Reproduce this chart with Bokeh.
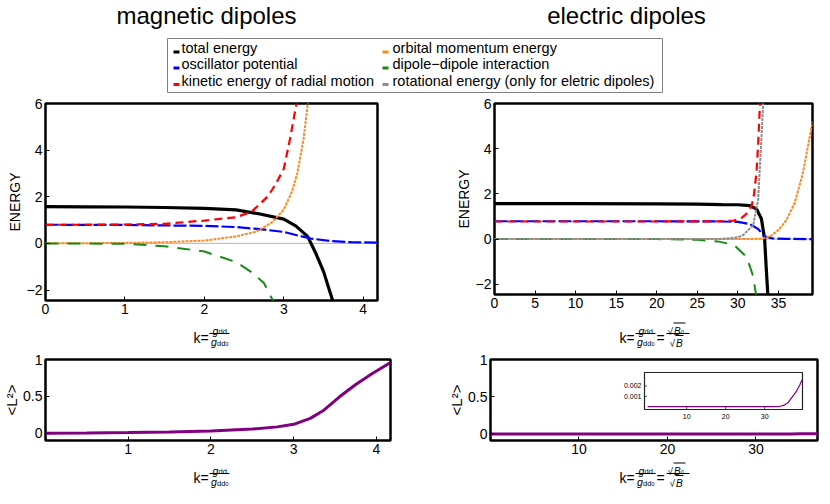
import math
from bokeh.plotting import figure
from bokeh.models import Range1d, Span
from bokeh.layouts import column, row
from bokeh.embed import file_html
from bokeh.resources import INLINE
from bokeh.core.properties import value

FONT = "Liberation Sans"

# ---------------- data ----------------
titles = ["magnetic dipoles", "electric dipoles"]
legend_labels = ["total energy", "oscillator potential", "kinetic energy of radial motion",
                 "orbital momentum energy", "dipole\u2212dipole interaction",
                 "rotational energy (only for eletric dipoles)"]
legend_colors = ["#000000", "#0000ff", "#ff0000", "#ff8a1f", "#1a8a1a", "#8c8c8c"]

energy_ticks = [-2, 0, 2, 4, 6]
mag_x_ticks = [0, 1, 2, 3, 4]
ele_x_ticks = [0, 5, 10, 15, 20, 25, 30, 35]
l2_ticks = [0, 0.5, 1]
mag_l2_x_ticks = [1, 2, 3, 4]
ele_l2_x_ticks = [10, 20, 30]
inset_x_ticks = [10, 20, 30]
inset_y_ticks = [0.001, 0.002]
inset_y_labels = ["0.001", "0.002"]

# magnetic dipoles (k = g_dd / g_dd0)
mag_total_k = [0, 0.5, 1.0, 1.5, 2.0, 2.4, 2.7, 3.0, 3.15, 3.3, 3.4, 3.5, 3.62]
mag_total = [1.58, 1.57, 1.56, 1.54, 1.50, 1.44, 1.26, 1.04, 0.75, 0.30, -0.40, -1.20, -2.50]
mag_osc_k = [0, 1.0, 1.5, 2.0, 2.4, 2.7, 3.0, 3.2, 3.35, 3.6, 3.85, 4.2]
mag_osc = [0.80, 0.79, 0.77, 0.75, 0.70, 0.61, 0.49, 0.32, 0.20, 0.10, 0.05, 0.03]
mag_kin_k = [0, 0.5, 1.0, 1.5, 2.0, 2.4, 2.6, 2.8, 2.9, 3.0, 3.08, 3.17]
mag_kin = [0.80, 0.80, 0.81, 0.84, 0.98, 1.12, 1.37, 2.02, 2.55, 3.20, 4.50, 6.2]
mag_orb_k = [0, 0.5, 1.0, 1.5, 2.0, 2.4, 2.65, 2.85, 3.0, 3.1, 3.17, 3.25, 3.31]
mag_orb = [0, 0.005, 0.02, 0.05, 0.12, 0.30, 0.50, 0.90, 1.45, 2.20, 3.00, 4.50, 6.2]
mag_dd_k = [0, 0.5, 1.0, 1.5, 2.0, 2.4, 2.6, 2.75, 2.87]
mag_dd = [0, -0.005, -0.02, -0.12, -0.35, -0.80, -1.25, -1.70, -2.50]
mag_l2_k = [0, 0.5, 1.0, 1.5, 2.0, 2.5, 2.8, 3.0, 3.2, 3.35, 3.55, 3.75, 3.95, 4.17]
mag_l2 = [0, 0.003, 0.008, 0.015, 0.03, 0.055, 0.085, 0.12, 0.2, 0.3, 0.49, 0.66, 0.81, 0.96]

# electric dipoles
ele_total_k = [0, 10, 20, 25, 28, 30, 31.5, 32.3, 32.9, 33.3, 33.5, 33.7]
ele_total = [1.57, 1.57, 1.56, 1.55, 1.53, 1.52, 1.48, 1.33, 0.90, 0.0, -1.3, -2.5]
ele_osc_k = [0, 20, 28, 30, 31.5, 32.5, 33.3, 34.3, 36, 39.2]
ele_osc = [0.79, 0.79, 0.78, 0.76, 0.66, 0.45, 0.12, 0.03, 0.01, 0.0]
ele_kin_k = [0, 20, 28, 29.5, 30.5, 31.0, 31.7, 32.0, 32.3, 32.5, 32.75]
ele_kin = [0.78, 0.78, 0.79, 0.82, 0.95, 1.1, 1.47, 2.0, 3.0, 4.2, 6.2]
ele_orb_k = [0, 30, 33, 34, 35, 36, 37, 38, 39, 39.2]
ele_orb = [0, 0, 0.02, 0.13, 0.40, 0.85, 1.6, 2.9, 4.8, 5.2]
ele_dd_k = [0, 20, 25, 27.5, 29.5, 31.1, 31.9, 32.25]
ele_dd = [0, 0, -0.03, -0.10, -0.25, -0.80, -1.66, -2.5]
ele_rot_k = [0, 20, 28, 30, 30.7, 31.9, 32.5, 32.9, 33.15]
ele_rot = [0, 0, 0.01, 0.08, 0.19, 0.62, 1.76, 4.4, 6.2]
ele_l2_k = [0, 10, 20, 30, 33, 34, 35, 36, 37, 38, 39, 39.6]
ele_l2 = [0, 0, 0, 0, 0, 0.00004, 0.00015, 0.0004, 0.0009, 0.0014, 0.0021, 0.0026]

# ---------------- styles ----------------
STY = {
    "total": dict(line_color=legend_colors[0], line_width=3.2),
    "osc": dict(line_color=legend_colors[1], line_width=2.2, line_dash="13 3"),
    "kin": dict(line_color=legend_colors[2], line_width=2.2, line_dash="8 5"),
    "orb": dict(line_color=legend_colors[3], line_width=2.0, line_dash="3 1"),
    "dd": dict(line_color=legend_colors[4], line_width=2.0, line_dash="13 9"),
    "rot": dict(line_color=legend_colors[5], line_width=2.0, line_dash="3 1"),
}
PURPLE = "#800080"
W = 814


def make_fig(xr, yr, fw, fh, bl, br, bt, bb, xticks, yticks, yover, ylabel, lsize="14px", lstand=1):
    p = figure(frame_width=fw, frame_height=fh, x_range=Range1d(*xr), y_range=Range1d(*yr),
               min_border_left=bl, min_border_right=br, min_border_top=bt, min_border_bottom=bb,
               output_backend="svg", toolbar_location=None)
    p.grid.visible = False
    p.outline_line_color = "black"
    p.outline_line_width = 2.5
    p.outline_line_alpha = 1.0
    p.xaxis.ticker = xticks
    p.yaxis.ticker = yticks
    for ax in p.axis:
        ax.axis_line_color = None
        ax.major_tick_out = 0
        ax.major_tick_in = 4
        ax.minor_tick_out = 0
        ax.minor_tick_in = 0
        ax.major_tick_line_color = "black"
        ax.major_label_text_font = FONT
        ax.major_label_text_font_size = "14px"
        ax.major_label_text_color = "black"
        ax.major_label_standoff = 3
    p.yaxis.major_label_overrides = yover
    p.yaxis.axis_label = ylabel
    p.yaxis.axis_label_text_font = FONT
    p.yaxis.axis_label_text_font_size = lsize
    p.yaxis.axis_label_text_font_style = "normal"
    p.yaxis.axis_label_text_color = "black"
    p.yaxis.axis_label_standoff = lstand
    return p


def plain_fig(h):
    f = figure(width=W, height=h, x_range=Range1d(0, W), y_range=Range1d(h, 0),
               output_backend="svg", toolbar_location=None, min_border=0,
               x_axis_location=None, y_axis_location=None, outline_line_color=None)
    f.grid.visible = False
    return f


def txt(f, x, y, t, size, style="normal", align="left", base="alphabetic"):
    f.text(x=[x], y=[y], text=[t], text_font=value(FONT), text_font_size=f"{size}px",
           text_font_style=style, text_align=align, text_baseline=base, text_color="black")


def hbar(f, x0, x1, y, th=1.0):
    f.quad(left=[x0], right=[x1], top=[y - th / 2], bottom=[y + th / 2],
           fill_color="black", line_color=None)


def k_label(f, kx, by, with_sqrt):
    # y grows downward in the label strips
    txt(f, kx, by + 4, "k=", 14)
    fx = kx + 16
    txt(f, fx + 3, by - 3, "g", 10.5, style="italic")
    txt(f, fx + 9, by - 2.5, "dd", 7.5)
    hbar(f, fx, fx + 20, by)
    txt(f, fx + 1.5, by + 8.5, "g", 10.5, style="italic")
    txt(f, fx + 7.5, by + 9.5, "dd", 7.5)
    txt(f, fx + 16, by + 10.5, "0", 5.5)
    if with_sqrt:
        txt(f, fx + 21, by + 4, "=", 14)
        sx = fx + 31
        hbar(f, sx, sx + 23, by)
        txt(f, sx + 1, by - 2.5, "\u221a", 10)
        txt(f, sx + 7.5, by - 2.5, "B", 10, style="italic")
        txt(f, sx + 14.5, by - 1.5, "0", 5.5)
        hbar(f, sx + 7, sx + 19, by - 10.5, 0.8)
        txt(f, sx + 3, by + 9.5, "\u221a", 10)
        txt(f, sx + 9.5, by + 9.5, "B", 10, style="italic")
        hbar(f, sx + 9, sx + 17, by + 2, 0.8)


# ---------------- header ----------------
hdr = plain_fig(93)
hdr.text(x=[206, 626], y=[15, 15], text=titles, text_font=value(FONT), text_font_size="24px",
         text_align="center", text_baseline="middle", text_color="black")
hdr.quad(left=[167], right=[662], top=[38], bottom=[92], fill_color="white",
         line_color="#808080", line_width=1)
col_sw = [173, 382]
col_tx = [181, 392]
row_y = [47.5, 63.5, 80]
sw_l, sw_r, sw_t, sw_b, tx_x, tx_y = [], [], [], [], [], []
for i, lbl in enumerate(legend_labels):
    c, r = i // 3, i % 3
    sw_l.append(col_sw[c]); sw_r.append(col_sw[c] + 6)
    sw_t.append(row_y[r] + 2.5); sw_b.append(row_y[r] + 5.5)
    tx_x.append(col_tx[c]); tx_y.append(row_y[r])
hdr.quad(left=sw_l, right=sw_r, top=sw_t, bottom=sw_b, fill_color=legend_colors, line_color=None)
hdr.text(x=tx_x, y=tx_y, text=legend_labels, text_font=value(FONT), text_font_size="14.5px",
         text_align="left", text_baseline="middle", text_color="black")

minus = {-2: "\u22122"}
l2_over = {0: "0", 0.5: "0.5", 1: "1"}

# ---------------- top-left: magnetic energies ----------------
tl = make_fig((0, 4.18), (-2.45, 6), 332, 197, 45, 30, 10, 20, mag_x_ticks, energy_ticks, minus, "ENERGY")
tl.add_layout(Span(location=0, dimension="width", line_color="#b4b4b4", line_width=1, level="underlay"))
tl.line(mag_total_k, mag_total, **STY["total"])
tl.line(mag_osc_k, mag_osc, **STY["osc"])
tl.line(mag_kin_k, mag_kin, **STY["kin"])
tl.line(mag_orb_k, mag_orb, **STY["orb"])
tl.line(mag_dd_k, mag_dd, **STY["dd"])

# ---------------- top-right: electric energies ----------------
tr = make_fig((0, 39.2), (-2.45, 6), 318, 191, 87, 2, 10, 26, ele_x_ticks, energy_ticks, minus, "ENERGY")
tr.add_layout(Span(location=0, dimension="width", line_color="#b4b4b4", line_width=1, level="underlay"))
tr.line(ele_total_k, ele_total, **STY["total"])
tr.line(ele_osc_k, ele_osc, **STY["osc"])
tr.line(ele_kin_k, ele_kin, **STY["kin"])
tr.line(ele_orb_k, ele_orb, **STY["orb"])
tr.line(ele_dd_k, ele_dd, **STY["dd"])
tr.line(ele_rot_k, ele_rot, **STY["rot"])

# ---------------- x-axis label strip under the energy plots ----------------
klab_top = plain_fig(28)
k_label(klab_top, 193, 13, False)
k_label(klab_top, 619, 13, True)

# ---------------- bottom-left: <L^2> magnetic ----------------
bl = make_fig((0, 4.17), (-0.1, 1), 345, 81, 40, 22, 11, 20, mag_l2_x_ticks, l2_ticks, l2_over,
              "<L\u00b2>", "15px", 0)
bl.line(mag_l2_k, mag_l2, line_color=PURPLE, line_width=3)

# ---------------- bottom-right: <L^2> electric with inset ----------------
BR_FW, BR_FH = 327, 81
br = make_fig((0, 36.95), (-0.089, 1), BR_FW, BR_FH, 78, 2, 9, 22, ele_l2_x_ticks, l2_ticks, l2_over,
              "<L\u00b2>", "15px", 0)
br.line(ele_l2_k, ele_l2, line_color=PURPLE, line_width=3)

ib_left, ib_right, ib_top, ib_bottom = 154, 312, 13, 50   # inset box, px inside the frame
inset_xr = (-0.8, 39.7)
inset_yr = (-0.00027, 0.0033)
isx = (inset_xr[1] - inset_xr[0]) / (ib_right - ib_left)
isy = (inset_yr[1] - inset_yr[0]) / (ib_bottom - ib_top)
br.extra_x_ranges = {"ix": Range1d(inset_xr[0] - ib_left * isx, inset_xr[1] + (BR_FW - ib_right) * isx)}
br.extra_y_ranges = {"iy": Range1d(inset_yr[0] - (BR_FH - ib_bottom) * isy, inset_yr[1] + ib_top * isy)}
br.quad(left=[inset_xr[0]], right=[inset_xr[1]], bottom=[inset_yr[0]], top=[inset_yr[1]],
        x_range_name="ix", y_range_name="iy", fill_color="white", line_color="#222222", line_width=1.2)
br.line(ele_l2_k, ele_l2, x_range_name="ix", y_range_name="iy", line_color=PURPLE, line_width=1.2)
br.segment(x0=inset_x_ticks, y0=[inset_yr[0]] * len(inset_x_ticks), x1=inset_x_ticks,
           y1=[inset_yr[0] + 2.5 * isy] * len(inset_x_ticks), x_range_name="ix", y_range_name="iy",
           line_color="#222222", line_width=0.8)
br.segment(x0=[inset_xr[0]] * len(inset_y_ticks), y0=inset_y_ticks,
           x1=[inset_xr[0] + 2.5 * isx] * len(inset_y_ticks), y1=inset_y_ticks,
           x_range_name="ix", y_range_name="iy", line_color="#222222", line_width=0.8)
br.text(x=inset_x_ticks, y=[inset_yr[0]] * len(inset_x_ticks), text=[str(t) for t in inset_x_ticks],
        x_range_name="ix", y_range_name="iy", y_offset=7, text_font=value(FONT), text_font_size="7px",
        text_align="center", text_baseline="middle", text_color="black")
br.text(x=[inset_xr[0]] * len(inset_y_ticks), y=inset_y_ticks, text=inset_y_labels,
        x_range_name="ix", y_range_name="iy", x_offset=-3, text_font=value(FONT), text_font_size="7px",
        text_align="right", text_baseline="middle", text_color="black")

# ---------------- x-axis label strip under the <L^2> plots ----------------
klab_bot = plain_fig(28)
k_label(klab_bot, 193, 13, False)
k_label(klab_bot, 619, 13, True)

layout = column(hdr, row(tl, tr), klab_top, row(bl, br), klab_bot)
open("out.html", "w").write(file_html(layout, INLINE))
